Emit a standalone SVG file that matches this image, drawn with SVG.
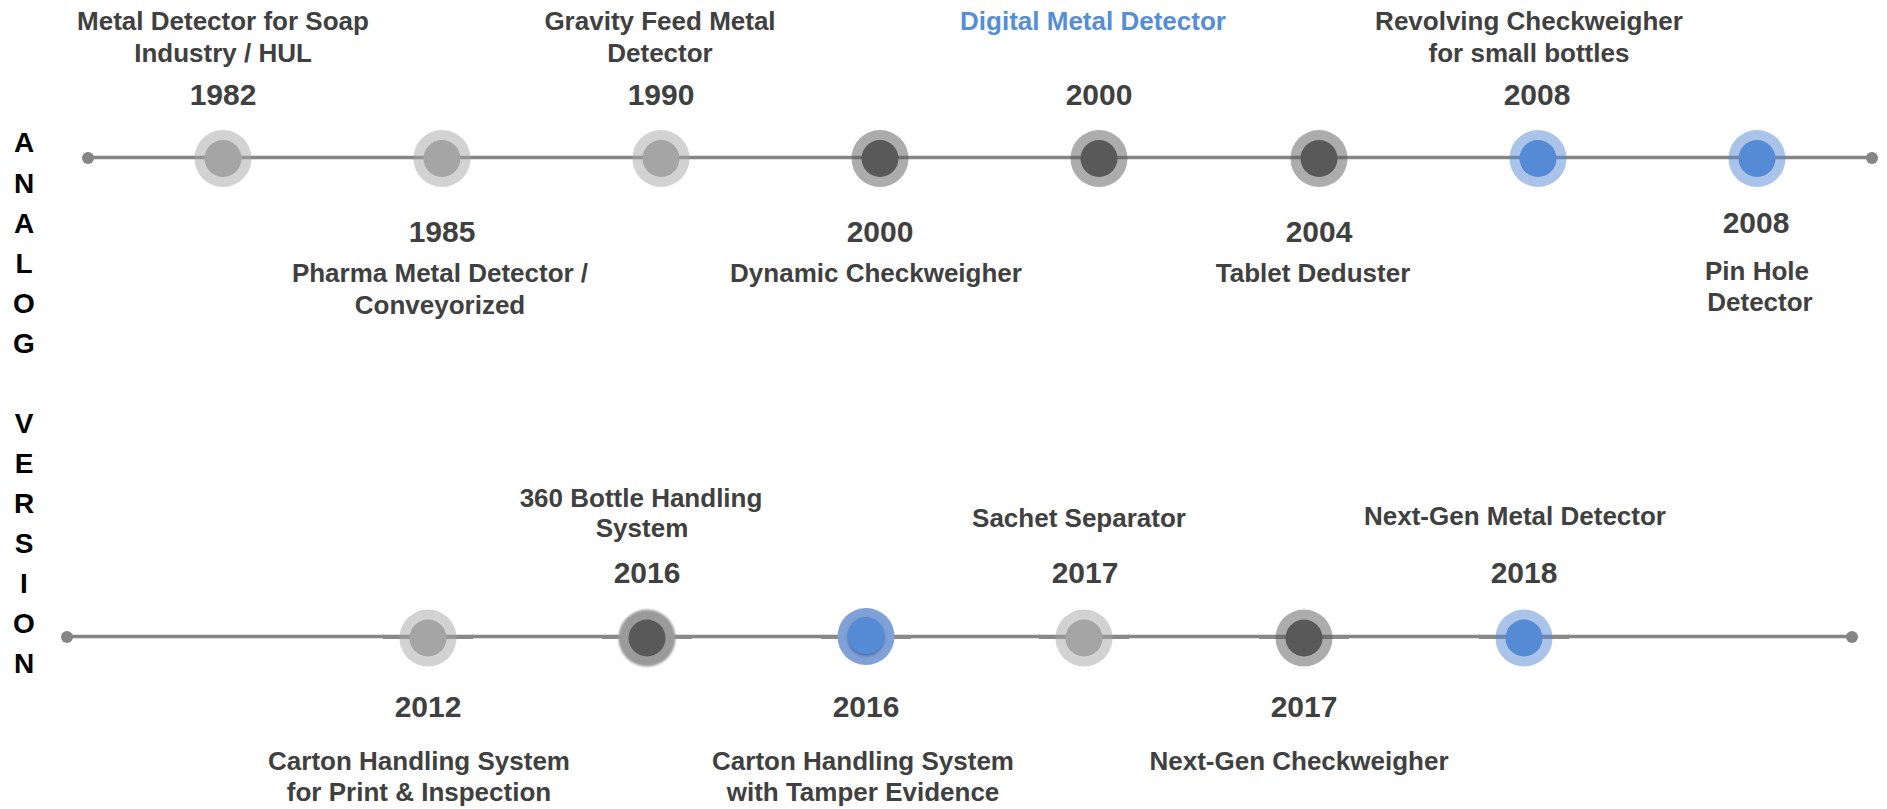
<svg xmlns="http://www.w3.org/2000/svg" width="1887" height="809" viewBox="0 0 1887 809">
<style>
.cap{font-family:"Liberation Sans",Arial,sans-serif;font-weight:bold;font-size:26px;fill:#404040;text-anchor:middle}
.yr{font-family:"Liberation Sans",Arial,sans-serif;font-weight:bold;font-size:30px;fill:#404040;text-anchor:middle}
.blue{fill:#558ed5}
.side{font-family:"Liberation Sans",Arial,sans-serif;font-weight:bold;font-size:28px;fill:#000;text-anchor:middle}
.axis{stroke:#858585;stroke-width:3.5;fill:none}
.seg{stroke:#8a8a8a;stroke-width:3;fill:none}
.end{fill:#858585}
.lo{fill:#a5a5a5}
.dk{fill:#595959}
.bl{fill:#558ad4}
.halo{opacity:0.5}
</style>
<defs>
<filter id="soft" x="-30%" y="-30%" width="160%" height="160%"><feGaussianBlur stdDeviation="1"/></filter>
<filter id="shadow" x="-30%" y="-30%" width="160%" height="160%"><feDropShadow dx="0" dy="2" stdDeviation="1.5" flood-color="#2a4a80" flood-opacity="0.6"/></filter>
</defs>
<g id="side-label">
<text class="side" x="24" y="152">A</text>
<text class="side" x="24" y="193">N</text>
<text class="side" x="24" y="233">A</text>
<text class="side" x="24" y="273">L</text>
<text class="side" x="24" y="313">O</text>
<text class="side" x="24" y="353">G</text>
<text class="side" x="24" y="433">V</text>
<text class="side" x="24" y="473">E</text>
<text class="side" x="24" y="513">R</text>
<text class="side" x="24" y="553">S</text>
<text class="side" x="24" y="593">I</text>
<text class="side" x="24" y="633">O</text>
<text class="side" x="24" y="673">N</text>
</g>
<g id="connectors">
<line class="axis" x1="88" y1="157.5" x2="1872" y2="157.5"/>
<circle class="end" cx="88" cy="158" r="6"/>
<circle class="end" cx="1872" cy="158" r="6"/>
<line class="axis" x1="67" y1="636.5" x2="1852" y2="636.5"/>
<circle class="end" cx="67" cy="637" r="6"/>
<circle class="end" cx="1852" cy="637" r="6"/>
<line class="seg" x1="383" y1="637.5" x2="473" y2="637.5"/>
<line class="seg" x1="602" y1="637.5" x2="692" y2="637.5"/>
<line class="seg" x1="821" y1="637.5" x2="911" y2="637.5"/>
<line class="seg" x1="1039" y1="637.5" x2="1129" y2="637.5"/>
<line class="seg" x1="1259" y1="637.5" x2="1349" y2="637.5"/>
<line class="seg" x1="1479" y1="637.5" x2="1569" y2="637.5"/>
</g>
<g id="n1982">
<circle class="lo halo" cx="223" cy="158.5" r="28.5"/><circle class="lo" cx="223" cy="158.5" r="18.5"/>
<text class="cap" x="223" y="30">Metal Detector for Soap</text>
<text class="cap" x="223" y="62">Industry / HUL</text>
<text class="yr" x="223" y="105">1982</text>
</g>
<g id="n1985">
<circle class="lo halo" cx="442" cy="158.5" r="28.5"/><circle class="lo" cx="442" cy="158.5" r="18.5"/>
<text class="yr" x="442" y="242">1985</text>
<text class="cap" x="440" y="282">Pharma Metal Detector /</text>
<text class="cap" x="440" y="314">Conveyorized</text>
</g>
<g id="n1990">
<circle class="lo halo" cx="661" cy="158.5" r="28.5"/><circle class="lo" cx="661" cy="158.5" r="18.5"/>
<text class="cap" x="660" y="30">Gravity Feed Metal</text>
<text class="cap" x="660" y="62">Detector</text>
<text class="yr" x="661" y="105">1990</text>
</g>
<g id="n2000a">
<circle class="dk halo" cx="880" cy="158.5" r="28.5"/><circle class="dk" cx="880" cy="158.5" r="18.5"/>
<text class="yr" x="880" y="242">2000</text>
<text class="cap" x="876" y="282">Dynamic Checkweigher</text>
</g>
<g id="n2000b">
<circle class="dk halo" cx="1099" cy="158.5" r="28.5"/><circle class="dk" cx="1099" cy="158.5" r="18.5"/>
<text class="cap blue" x="1093" y="30">Digital Metal Detector</text>
<text class="yr" x="1099" y="105">2000</text>
</g>
<g id="n2004">
<circle class="dk halo" cx="1319" cy="158.5" r="28.5"/><circle class="dk" cx="1319" cy="158.5" r="18.5"/>
<text class="yr" x="1319" y="242">2004</text>
<text class="cap" x="1313" y="282">Tablet Deduster</text>
</g>
<g id="n2008a">
<circle class="bl halo" cx="1538" cy="158.5" r="28.5"/><circle class="bl" cx="1538" cy="158.5" r="18.5"/>
<text class="cap" x="1529" y="30">Revolving Checkweigher</text>
<text class="cap" x="1529" y="62">for small bottles</text>
<text class="yr" x="1537" y="105">2008</text>
</g>
<g id="n2008b">
<circle class="bl halo" cx="1757" cy="158.5" r="28.5"/><circle class="bl" cx="1757" cy="158.5" r="18.5"/>
<text class="yr" x="1756" y="233">2008</text>
<text class="cap" x="1757" y="280">Pin Hole</text>
<text class="cap" x="1760" y="311">Detector</text>
</g>
<g id="n2012">
<circle class="lo halo" cx="428" cy="638" r="28.5"/><circle class="lo" cx="428" cy="638" r="18.5"/>
<text class="yr" x="428" y="717">2012</text>
<text class="cap" x="419" y="770">Carton Handling System</text>
<text class="cap" x="419" y="801">for Print &amp; Inspection</text>
</g>
<g id="n2016a">
<circle fill="#9a9a9a" filter="url(#soft)" cx="647" cy="638" r="28.5"/><circle class="dk" cx="647" cy="638" r="18.5"/>
<text class="cap" x="641" y="507">360 Bottle Handling</text>
<text class="cap" x="642" y="537">System</text>
<text class="yr" x="647" y="583">2016</text>
</g>
<g id="n2016b">
<circle fill="#7fa1d8" cx="866" cy="636.5" r="28.5"/><circle class="bl" filter="url(#shadow)" cx="866" cy="635.5" r="18.5"/>
<text class="yr" x="866" y="717">2016</text>
<text class="cap" x="863" y="770">Carton Handling System</text>
<text class="cap" x="863" y="801">with Tamper Evidence</text>
</g>
<g id="n2017a">
<circle class="lo halo" cx="1084" cy="638" r="28.5"/><circle class="lo" cx="1084" cy="638" r="18.5"/>
<text class="cap" x="1079" y="527">Sachet Separator</text>
<text class="yr" x="1085" y="583">2017</text>
</g>
<g id="n2017b">
<circle class="dk halo" cx="1304" cy="638" r="28.5"/><circle class="dk" cx="1304" cy="638" r="18.5"/>
<text class="yr" x="1304" y="717">2017</text>
<text class="cap" x="1299" y="770">Next-Gen Checkweigher</text>
</g>
<g id="n2018">
<circle class="bl halo" cx="1524" cy="638" r="28.5"/><circle class="bl" cx="1524" cy="638" r="18.5"/>
<text class="cap" x="1515" y="525">Next-Gen Metal Detector</text>
<text class="yr" x="1524" y="583">2018</text>
</g>
</svg>
